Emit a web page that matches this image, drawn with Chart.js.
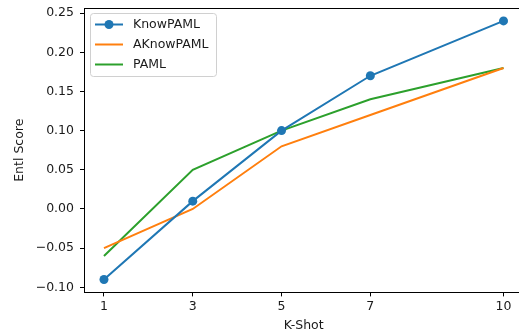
<!DOCTYPE html>
<html>
<head>
<meta charset="utf-8">
<script src="https://cdn.jsdelivr.net/npm/chart.js@4"></script>
<style>
  html, body { margin: 0; padding: 0; background: #fff; overflow: hidden; }
  #wrap { width: 524px; height: 333px; }
</style>
</head>
<body>
<div id="wrap"><canvas id="chart" width="524" height="333"></canvas></div>
<script>
const kShots = [1, 3, 5, 7, 10];
const knowPaml = [-0.09, 0.01, 0.10, 0.17, 0.24];
const aKnowPaml = [-0.05, 0.00, 0.08, 0.12, 0.18];
const paml = [-0.06, 0.05, 0.10, 0.14, 0.18];
const xTicks = [1, 3, 5, 7, 10];
const yTicks = [-0.10, -0.05, 0.00, 0.05, 0.10, 0.15, 0.20, 0.25];

const FONT = 'DejaVu Sans';
const toPoints = (ys) => kShots.map((x, i) => ({ x: x, y: ys[i] }));

// no extra room for overhanging tick labels, like matplotlib
const noPad = (s) => {
    s.paddingLeft = 0; s.paddingRight = 0; s.paddingTop = 0; s.paddingBottom = 0;
};

// matplotlib-like frame and legend in the upper left corner
const framePlugin = {
    id: 'frame',
    afterDraw(chart) {
        const ctx = chart.ctx;
        const a = chart.chartArea;
        ctx.save();
        ctx.strokeStyle = '#000';
        ctx.lineWidth = 1;
        ctx.strokeRect(Math.round(a.left) + 0.5, Math.round(a.top) + 0.5,
            Math.round(a.right - a.left), Math.round(a.bottom - a.top));

        // legend
        const bx = 90.5, by = 13.5, bw = 126, bh = 63;
        ctx.fillStyle = 'rgba(255,255,255,0.8)';
        ctx.strokeStyle = '#d0d0d0';
        ctx.beginPath();
        ctx.roundRect(bx, by, bw, bh, 3);
        ctx.fill();
        ctx.stroke();
        ctx.font = '12.5px ' + FONT;
        ctx.textBaseline = 'middle';
        ctx.textAlign = 'left';
        chart.data.datasets.forEach((ds, i) => {
            const y = 24.5 + i * 20;
            ctx.strokeStyle = ds.borderColor;
            ctx.lineWidth = 2;
            ctx.beginPath();
            ctx.moveTo(95, y);
            ctx.lineTo(123, y);
            ctx.stroke();
            if (ds.pointRadius > 0) {
                ctx.fillStyle = ds.borderColor;
                ctx.beginPath();
                ctx.arc(109, y, ds.pointRadius, 0, Math.PI * 2);
                ctx.fill();
            }
            ctx.fillStyle = '#1a1a1a';
            ctx.fillText(ds.label, 133, y);
        });
        ctx.restore();
    }
};

new Chart(document.getElementById('chart'), {
    type: 'line',
    data: {
        datasets: [
            { label: 'KnowPAML', data: toPoints(knowPaml), borderColor: '#1f77b4', backgroundColor: '#1f77b4',
              pointRadius: 4.5, pointBorderWidth: 0 },
            { label: 'AKnowPAML', data: toPoints(aKnowPaml), borderColor: '#ff7f0e', backgroundColor: '#ff7f0e',
              pointRadius: 0 },
            { label: 'PAML', data: toPoints(paml), borderColor: '#2ca02c', backgroundColor: '#2ca02c',
              pointRadius: 0 }
        ]
    },
    options: {
        responsive: false,
        animation: false,
        devicePixelRatio: 1,
        layout: { autoPadding: false, padding: { top: 8, right: 0.5, bottom: 0, left: 0 } },
        elements: { line: { borderWidth: 2, tension: 0 } },
        plugins: { legend: { display: false }, tooltip: { enabled: false } },
        scales: {
            x: {
                type: 'linear',
                min: 0.55,
                max: 10.45,
                afterBuildTicks: (s) => { s.ticks = xTicks.map(v => ({ value: v })); },
                afterFit: (s) => { s.height = 40.6; noPad(s); },
                grid: { display: true, drawOnChartArea: false, drawTicks: true, tickLength: 4, color: '#000' },
                border: { display: false },
                ticks: { font: { family: FONT, size: 12.5 }, color: '#1a1a1a', padding: 3, maxRotation: 0 },
                title: { display: true, text: 'K-Shot', font: { family: FONT, size: 12.5 }, color: '#1a1a1a',
                         padding: { top: 0, bottom: 0 } }
            },
            y: {
                min: -0.1065,
                max: 0.2565,
                afterBuildTicks: (s) => { s.ticks = yTicks.map(v => ({ value: v })); },
                afterFit: (s) => { s.width = 84; noPad(s); },
                grid: { display: true, drawOnChartArea: false, drawTicks: true, tickLength: 4, color: '#000' },
                border: { display: false },
                ticks: {
                    font: { family: FONT, size: 12.5 }, color: '#1a1a1a', padding: 6,
                    callback: (v) => (v < -1e-9 ? '\u2212' : '') + Math.abs(v).toFixed(2)
                },
                title: { display: true, text: 'Entl Score', font: { family: FONT, size: 12.5 }, color: '#1a1a1a',
                         padding: { top: 12.5, bottom: 0 } }
            }
        }
    },
    plugins: [framePlugin]
});
</script>
</body>
</html>
